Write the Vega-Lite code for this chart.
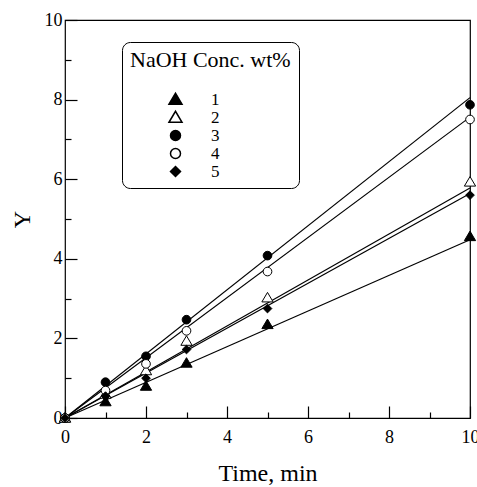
{
  "$schema": "https://vega.github.io/schema/vega-lite/v6.json",
  "width": 405,
  "height": 398,
  "autosize": {"type": "none"},
  "padding": {"left": 65, "top": 20, "right": 7, "bottom": 69},
  "background": "white",
  "config": {
    "font": "Liberation Serif",
    "view": {"stroke": "black", "strokeWidth": 1.2},
    "axis": {
      "domain": false,
      "ticks": true,
      "tickColor": "black",
      "tickWidth": 1.2,
      "tickOpacity": 1,
      "grid": false,
      "labelColor": "black",
      "labelFont": "Liberation Serif",
      "labelFontSize": 18,
      "titleFont": "Liberation Serif",
      "titleFontSize": 24,
      "titleFontWeight": "normal",
      "titleColor": "black"
    },
    "legend": {
      "titleFont": "Liberation Serif",
      "titleFontSize": 22,
      "titleFontWeight": "normal",
      "titleColor": "black",
      "labelFont": "Liberation Serif",
      "labelFontSize": 17,
      "labelColor": "black"
    }
  },
  "datasets": {
    "points": [
      {"t": 0, "y": 0, "s": "1"}, {"t": 1, "y": 0.41, "s": "1"}, {"t": 2, "y": 0.8, "s": "1"}, {"t": 3, "y": 1.38, "s": "1"}, {"t": 5, "y": 2.35, "s": "1"}, {"t": 10, "y": 4.56, "s": "1"},
      {"t": 0, "y": 0, "s": "2"}, {"t": 1, "y": 0.6, "s": "2"}, {"t": 2, "y": 1.19, "s": "2"}, {"t": 3, "y": 1.93, "s": "2"}, {"t": 5, "y": 3.02, "s": "2"}, {"t": 10, "y": 5.93, "s": "2"},
      {"t": 0, "y": 0, "s": "3"}, {"t": 1, "y": 0.9, "s": "3"}, {"t": 2, "y": 1.55, "s": "3"}, {"t": 3, "y": 2.47, "s": "3"}, {"t": 5, "y": 4.08, "s": "3"}, {"t": 10, "y": 7.87, "s": "3"},
      {"t": 0, "y": 0, "s": "4"}, {"t": 1, "y": 0.69, "s": "4"}, {"t": 2, "y": 1.36, "s": "4"}, {"t": 3, "y": 2.19, "s": "4"}, {"t": 5, "y": 3.68, "s": "4"}, {"t": 10, "y": 7.5, "s": "4"},
      {"t": 0, "y": 0, "s": "5"}, {"t": 1, "y": 0.55, "s": "5"}, {"t": 2, "y": 1.0, "s": "5"}, {"t": 3, "y": 1.72, "s": "5"}, {"t": 5, "y": 2.75, "s": "5"}, {"t": 10, "y": 5.6, "s": "5"}
    ],
    "fits": [
      {"t": 0, "y": 0, "s": "1"}, {"t": 10, "y": 4.48, "s": "1"},
      {"t": 0, "y": 0, "s": "2"}, {"t": 10, "y": 5.78, "s": "2"},
      {"t": 0, "y": 0, "s": "3"}, {"t": 10, "y": 8.05, "s": "3"},
      {"t": 0, "y": 0, "s": "4"}, {"t": 10, "y": 7.56, "s": "4"},
      {"t": 0, "y": 0, "s": "5"}, {"t": 10, "y": 5.64, "s": "5"}
    ]
  },
  "resolve": {"scale": {"x": "independent", "y": "independent"}, "axis": {"x": "independent", "y": "independent"}},
  "layer": [
    {
      "data": {"name": "fits"},
      "mark": {"type": "point", "opacity": 0},
      "encoding": {
        "x": {
          "field": "t",
          "type": "quantitative",
          "scale": {"domain": [0, 10], "nice": false, "zero": false},
          "axis": {"orient": "bottom", "values": [1, 3, 5, 7, 9], "labels": false, "title": null, "ticks": true, "tickSize": 6, "offset": -6}
        },
        "y": {
          "field": "y",
          "type": "quantitative",
          "scale": {"domain": [0, 10], "nice": false, "zero": false},
          "axis": {"orient": "left", "values": [1, 3, 5, 7, 9], "labels": false, "title": null, "ticks": true, "tickSize": 6, "offset": -6}
        }
      }
    },
    {
      "encoding": {
        "x": {
          "field": "t",
          "type": "quantitative",
          "scale": {"domain": [0, 10], "nice": false, "zero": false},
          "axis": {
            "orient": "bottom",
            "title": "Time, min",
            "values": [0, 2, 4, 6, 8, 10],
            "ticks": true,
            "tickSize": 12,
            "offset": -12,
            "labelPadding": 10,
            "labelFlush": false,
            "labelOverlap": false,
            "titlePadding": 15
          }
        },
        "y": {
          "field": "y",
          "type": "quantitative",
          "scale": {"domain": [0, 10], "nice": false, "zero": false},
          "axis": {
            "orient": "left",
            "title": "Y",
            "values": [0, 2, 4, 6, 8, 10],
            "ticks": true,
            "tickSize": 12,
            "offset": -12,
            "labelPadding": 3,
            "labelFlush": false,
            "labelOverlap": false,
            "titlePadding": 10
          }
        }
      },
      "layer": [
        {
          "data": {"name": "fits"},
          "mark": {"type": "line", "color": "black", "strokeWidth": 1.2, "clip": false},
          "encoding": {"detail": {"field": "s", "type": "nominal"}}
        },
        {
          "data": {"name": "points"},
          "mark": {"type": "point", "stroke": "black", "strokeWidth": 1, "opacity": 1, "size": 75, "clip": false},
          "encoding": {
            "shape": {
              "field": "s",
              "type": "nominal",
              "title": "NaOH Conc. wt%",
              "scale": {"domain": ["1", "2", "3", "4", "5"], "range": ["M-1.3,0.95L0,-1.25L1.3,0.95Z", "M-1.3,0.95L0,-1.25L1.3,0.95Z", "circle", "circle", "diamond"]},
              "legend": {
                "orient": "none",
                "legendX": 57,
                "legendY": 22,
                "strokeColor": "black",
                "cornerRadius": 8,
                "padding": 8,
                "fillColor": "white",
                "symbolOffset": 37,
                "labelOffset": 27,
                "rowPadding": 0,
                "titlePadding": 19,
                "encode": {"symbols": {"update": {"stroke": {"value": "black"}, "strokeWidth": {"value": 1}, "opacity": {"value": 1}}}}
              }
            },
            "fill": {
              "field": "s",
              "type": "nominal",
              "title": "NaOH Conc. wt%",
              "scale": {"domain": ["1", "2", "3", "4", "5"], "range": ["black", "white", "black", "white", "black"]}
            }
          }
        }
      ]
    }
  ]
}
